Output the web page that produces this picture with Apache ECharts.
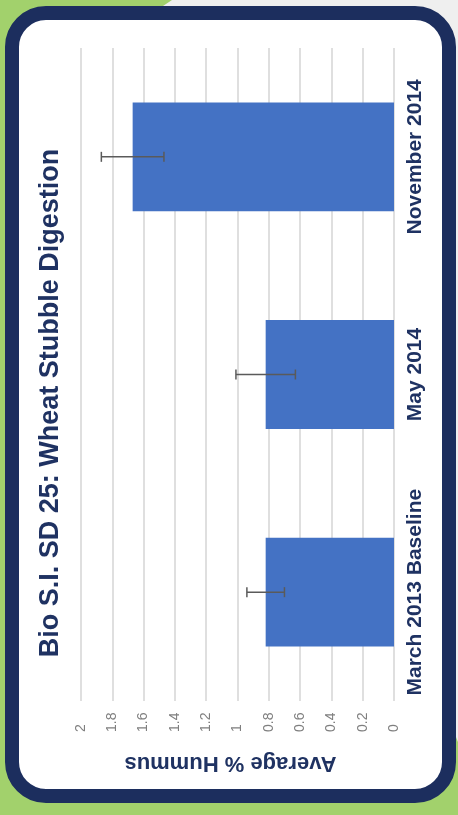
<!DOCTYPE html>
<html>
<head>
<meta charset="utf-8">
<script src="https://cdn.jsdelivr.net/npm/echarts@6/dist/echarts.min.js"></script>
<style>
html,body{margin:0;padding:0;background:#a2d16c;}
#chart{width:458px;height:815px;}
</style>
</head>
<body>
<div id="chart"></div>
<script>
var titleText = 'Bio S.I. SD 25: Wheat Stubble Digestion';
var axisName = 'Average % Hummus';
var categories = ['March 2013 Baseline', 'May 2014', 'November 2014'];
var values = [0.82, 0.82, 1.67];
var errors = [0.12, 0.19, 0.20];

var FONT = '"Liberation Sans", Arial, sans-serif';
var NAVY = '#1f3262';

var errorData = values.map(function (v, i) { return [i, v - errors[i], v + errors[i]]; });

var chart = echarts.init(document.getElementById('chart'));
chart.setOption({
  animation: false,
  backgroundColor: 'transparent',
  graphic: [
    { type: 'rect', z: -10, silent: true, shape: { x: 0, y: 0, width: 458, height: 815 }, style: { fill: '#a2d16c' } },
    { type: 'polygon', z: -9, silent: true, shape: { points: [[172, 0], [458, 0], [458, 742], [160, 8]] }, style: { fill: '#efefef' } },
    { type: 'rect', z: -8, silent: true, shape: { x: 12, y: 13, width: 437, height: 783, r: 34 }, style: { fill: '#ffffff', stroke: '#1c2e5e', lineWidth: 14 } },
    { type: 'text', z: 10, x: 51, y: 403, rotation: Math.PI / 2,
      style: { text: titleText, font: 'bold 27px ' + FONT, fill: NAVY, align: 'center', verticalAlign: 'middle' } }
  ],
  grid: { left: 81, right: 64, top: 48, bottom: 114, containLabel: false },
  xAxis: {
    type: 'value', inverse: true, min: 0, max: 2, interval: 0.2, position: 'bottom',
    name: axisName, nameLocation: 'middle', nameGap: 51, nameRotate: 180,
    nameTextStyle: { fontFamily: FONT, fontWeight: 'bold', fontSize: 22, color: NAVY, padding: [0, 0, 0, 14] },
    axisLine: { show: false }, axisTick: { show: false },
    axisLabel: { rotate: 90, align: 'left', verticalAlign: 'middle', margin: 31, fontFamily: FONT, fontSize: 14, color: '#7f7f7f' },
    splitLine: { show: true, lineStyle: { color: '#d4d4d4', width: 1.5 } }
  },
  yAxis: {
    type: 'category', data: categories, position: 'right',
    axisLine: { show: false }, axisTick: { show: false },
    axisLabel: { rotate: 90, align: 'center', verticalAlign: 'top', margin: 11, fontFamily: FONT, fontWeight: 'bold', fontSize: 21, color: NAVY, interval: 0 },
    splitLine: { show: false }
  },
  series: [
    { type: 'bar', data: values, barWidth: '50%', itemStyle: { color: '#4472c4' } },
    {
      type: 'custom', data: errorData, z: 5,
      encode: { y: 0, x: [1, 2] },
      renderItem: function (params, api) {
        var ci = api.value(0);
        var lo = api.coord([api.value(1), ci]);
        var hi = api.coord([api.value(2), ci]);
        var h = 5;
        var st = { stroke: '#5a5a5a', lineWidth: 1.5 };
        return { type: 'group', children: [
          { type: 'line', shape: { x1: lo[0], y1: lo[1], x2: hi[0], y2: hi[1] }, style: st },
          { type: 'line', shape: { x1: lo[0], y1: lo[1] - h, x2: lo[0], y2: lo[1] + h }, style: st },
          { type: 'line', shape: { x1: hi[0], y1: hi[1] - h, x2: hi[0], y2: hi[1] + h }, style: st }
        ] };
      }
    }
  ]
});
</script>
</body>
</html>
